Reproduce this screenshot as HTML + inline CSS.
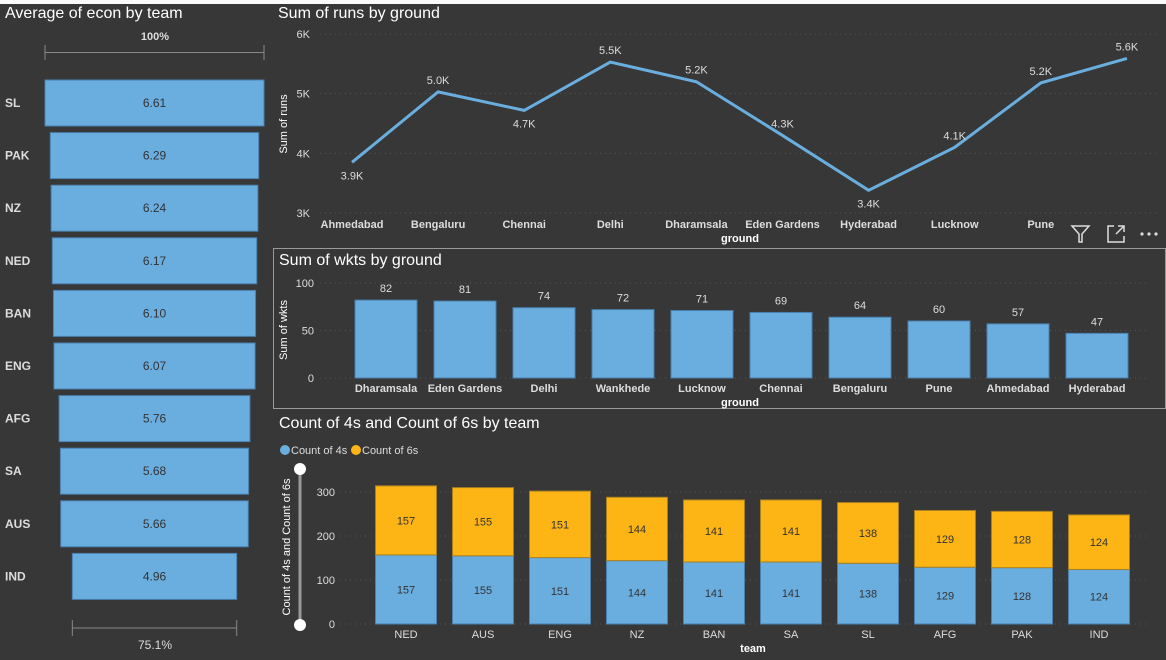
<!DOCTYPE html>
<html><head><meta charset="utf-8"><style>
html,body{margin:0;padding:0;background:#373737;width:1166px;height:660px;overflow:hidden;font-family:"Liberation Sans",sans-serif}
svg{display:block}
</style></head><body>
<svg id="s" width="1166" height="660" xmlns="http://www.w3.org/2000/svg">
<rect x="0" y="0" width="1166" height="4" fill="#fafafa"/>
<text x="5" y="18" fill="#fff" font-size="16">Average of econ by team</text>
<text x="278" y="18" fill="#fff" font-size="16">Sum of runs by ground</text>
<text x="279" y="265" fill="#fff" font-size="16">Sum of wkts by ground</text>
<text x="279" y="428" fill="#fff" font-size="16">Count of 4s and Count of 6s by team</text>
<rect x="273.5" y="248.5" width="892" height="160" fill="none" stroke="#9a9a9a"/>
<g id="funnel"></g>
<g id="line"></g>
<g id="wk"></g>
<g id="st"></g>
<g fill="none" stroke="#ddd" stroke-width="1.5">
<path d="M1072 226 L1089 226 L1082 234 L1082 242 L1079 242 L1079 234 Z"/>
<path d="M1114 226 L1108 226 L1108 242 L1124 242 L1124 236 M1116 234 L1124 226 M1118 226 L1124 226 L1124 232"/>
<g fill="#ddd" stroke="none"><circle cx="1142" cy="234" r="1.6"/><circle cx="1149" cy="234" r="1.6"/><circle cx="1156" cy="234" r="1.6"/></g>
</g>
</svg>
<script>
const NS="http://www.w3.org/2000/svg";
function mk(p,t,a,txt){const e=document.createElementNS(NS,t);for(const k in a)e.setAttribute(k,a[k]);if(txt!==undefined)e.textContent=txt;p.appendChild(e);return e;}
const ecTeams=["SL","PAK","NZ","NED","BAN","ENG","AFG","SA","AUS","IND"];
const ecVals=[6.61,6.29,6.24,6.17,6.10,6.07,5.76,5.68,5.66,4.96];
const runGrounds=["Ahmedabad","Bengaluru","Chennai","Delhi","Dharamsala","Eden Gardens","Hyderabad","Lucknow","Pune","Wankhede"];
const runVals=[3.85,5.03,4.72,5.53,5.2,4.3,3.38,4.1,5.18,5.59];
const runLabels=["3.9K","5.0K","4.7K","5.5K","5.2K","4.3K","3.4K","4.1K","5.2K","5.6K"];
const runTicks=[3,4,5,6];
const wkGrounds=["Dharamsala","Eden Gardens","Delhi","Wankhede","Lucknow","Chennai","Bengaluru","Pune","Ahmedabad","Hyderabad"];
const wkVals=[82,81,74,72,71,69,64,60,57,47];
const wkTicks=[0,50,100];
const stTeams=["NED","AUS","ENG","NZ","BAN","SA","SL","AFG","PAK","IND"];
const fours=[157,155,151,144,141,141,138,129,128,124];
const sixes=[157,155,151,144,141,141,138,129,128,124];
const stTicks=[0,100,200,300];
const BLUE="#6aaee0",GOLD="#fdb515",TXT="#ddd";

// funnel
(function(){
 const g=document.getElementById('funnel');const cx=154.5,maxW=219,max=Math.max(...ecVals);
 const l=mk(g,'path',{d:"M45 45 V60 M45 52.5 H264 M264 45 V60",stroke:"#888",fill:"none"});
 let t=mk(g,'text',{x:155,y:40,fill:TXT,"font-size":11,"text-anchor":"middle","font-weight":"bold"},"100%");
 ecVals.forEach((v,i)=>{const w=v/max*maxW,y=80+i*52.6;
  const r=mk(g,'rect',{x:cx-w/2,y:y,width:w,height:46,fill:BLUE,stroke:"#4a7fae"});
  const a=mk(g,'text',{x:cx,y:y+27,fill:"#333","font-size":12,"text-anchor":"middle"},v.toFixed(2));
  const b=mk(g,'text',{x:5,y:y+27,fill:TXT,"font-size":12,"font-weight":"bold"},ecTeams[i]);});
 const wl=ecVals[ecVals.length-1]/max*maxW;
 const l2=mk(g,'path',{d:`M${cx-wl/2} 620 V636 M${cx-wl/2} 628 H${cx+wl/2} M${cx+wl/2} 620 V636`,stroke:"#888",fill:"none"});
 t=mk(g,'text',{x:155,y:649,fill:TXT,"font-size":12,"text-anchor":"middle"},"75.1%");
})();

// line
(function(){
 const g=document.getElementById('line');const x=i=>352+i*86.1,y=v=>213-(v-3)/3*179;
 runTicks.forEach(tk=>{const l=mk(g,'line',{x1:320,x2:1160,y1:y(tk),y2:y(tk),stroke:"#555","stroke-dasharray":"1 4"});
  const t=mk(g,'text',{x:310,y:y(tk)+4,fill:TXT,"font-size":11,"text-anchor":"end"},tk+"K");});
 const p=mk(g,'polyline',{points:runVals.map((v,i)=>x(i)+","+y(v)).join(" "),fill:"none",stroke:BLUE,"stroke-width":3});
 runVals.forEach((v,i)=>{const below=i>0&&i<runVals.length-1&&runVals[i-1]>v&&runVals[i+1]>v||i==0;
  const t=mk(g,'text',{x:x(i),y:below?y(v)+17:y(v)-8,fill:TXT,"font-size":11,"text-anchor":"middle"},runLabels[i]);
  if(i<runGrounds.length-1){const c=mk(g,'text',{x:x(i),y:228,fill:TXT,"font-size":11,"text-anchor":"middle","font-weight":"bold"},runGrounds[i]);}});
 let t=mk(g,'text',{x:740,y:242,fill:"#fff","font-size":11,"text-anchor":"middle","font-weight":"bold"},"ground");
 t=mk(g,'text',{x:0,y:0,fill:"#fff","font-size":11,"text-anchor":"middle",transform:"translate(287,124) rotate(-90)"},"Sum of runs");
})();

// wkts
(function(){
 const g=document.getElementById('wk');const x=i=>386+i*79.0,y=v=>378-v*0.95,bw=62;
 wkTicks.forEach(tk=>{const l=mk(g,'line',{x1:320,x2:1150,y1:y(tk),y2:y(tk),stroke:"#555","stroke-dasharray":"1 4"});
  const t=mk(g,'text',{x:314,y:y(tk)+4,fill:TXT,"font-size":11,"text-anchor":"end"},tk);});
 wkVals.forEach((v,i)=>{const r=mk(g,'rect',{x:x(i)-bw/2,y:y(v),width:bw,height:y(0)-y(v),fill:BLUE,stroke:"#4a7fae"});
  let t=mk(g,'text',{x:x(i),y:y(v)-8,fill:TXT,"font-size":11,"text-anchor":"middle"},v);
  t=mk(g,'text',{x:x(i),y:392,fill:TXT,"font-size":11,"text-anchor":"middle","font-weight":"bold"},wkGrounds[i]);});
 let t=mk(g,'text',{x:740,y:406,fill:"#fff","font-size":11,"text-anchor":"middle","font-weight":"bold"},"ground");
 t=mk(g,'text',{x:0,y:0,fill:"#fff","font-size":11,"text-anchor":"middle",transform:"translate(287,330) rotate(-90)"},"Sum of wkts");
})();

// stacked
(function(){
 const g=document.getElementById('st');const x=i=>406+i*77.0,y=v=>624-v*0.44,bw=61;
 let c=mk(g,'circle',{cx:285,cy:450,r:5,fill:BLUE});
 let t=mk(g,'text',{x:291,y:454,fill:TXT,"font-size":11},"Count of 4s");
 c=mk(g,'circle',{cx:356,cy:450,r:5,fill:GOLD});
 t=mk(g,'text',{x:362,y:454,fill:TXT,"font-size":11},"Count of 6s");
 const sl=mk(g,'line',{x1:300,x2:300,y1:470,y2:624,stroke:"#999","stroke-width":3});
 [469,625].forEach(cy=>{const h=mk(g,'circle',{cx:300,cy:cy,r:6,fill:"#fff"});});
 stTicks.forEach(tk=>{const l=mk(g,'line',{x1:340,x2:1150,y1:y(tk),y2:y(tk),stroke:"#555","stroke-dasharray":"1 4"});
  const tt=mk(g,'text',{x:335,y:y(tk)+4,fill:TXT,"font-size":11,"text-anchor":"end"},tk);});
 stTeams.forEach((tm,i)=>{const a=fours[i],b=sixes[i];
  let r=mk(g,'rect',{x:x(i)-bw/2,y:y(a),width:bw,height:y(0)-y(a),fill:BLUE,stroke:"#4a7fae"});
  r=mk(g,'rect',{x:x(i)-bw/2,y:y(a+b),width:bw,height:y(a)-y(a+b),fill:GOLD,stroke:"#a88020"});
  let tt=mk(g,'text',{x:x(i),y:(y(0)+y(a))/2+4,fill:"#333","font-size":11,"text-anchor":"middle"},a);
  tt=mk(g,'text',{x:x(i),y:(y(a)+y(a+b))/2+4,fill:"#333","font-size":11,"text-anchor":"middle"},b);
  tt=mk(g,'text',{x:x(i),y:638,fill:TXT,"font-size":11,"text-anchor":"middle"},tm);});
 t=mk(g,'text',{x:753,y:652,fill:"#fff","font-size":11,"text-anchor":"middle","font-weight":"bold"},"team");
 t=mk(g,'text',{x:0,y:0,fill:"#fff","font-size":11,"text-anchor":"middle",transform:"translate(290,547) rotate(-90)"},"Count of 4s and Count of 6s");
})();
</script>
</body></html>
